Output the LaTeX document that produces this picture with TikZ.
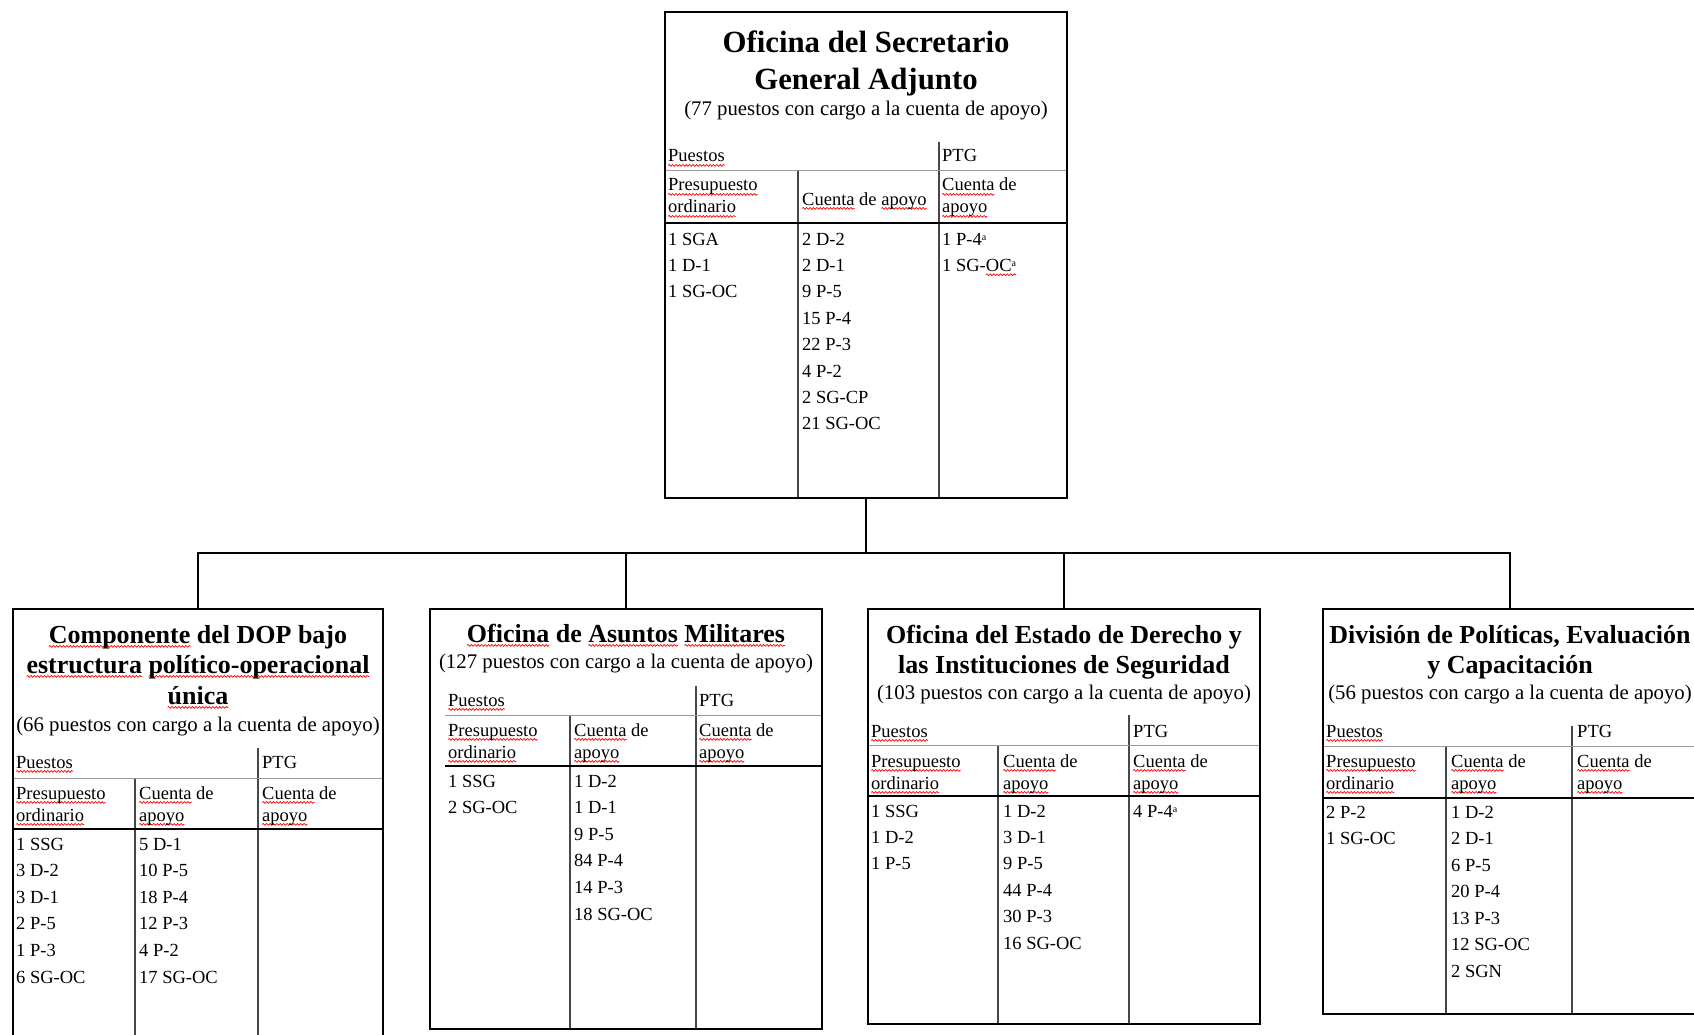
\documentclass[tikz,border=0pt]{standalone}
\usepackage{fontspec}
\setmainfont{Liberation Serif}
\usetikzlibrary{decorations.pathmorphing}

% red wavy underline, as a spell checker draws it
\newlength\sqlen
\tikzset{sqwave/.style={draw=red, line width=0.7pt, decorate,
  decoration={snake, amplitude=0.9pt, segment length=3.4pt}}}
\newcommand\sq[1]{\settowidth\sqlen{#1}%
  \tikz[overlay,baseline=0pt]\draw[sqwave] (0pt,-3.4pt) -- ++(\sqlen,0pt);#1}
% footnote mark a
\newcommand\fna{\raisebox{5pt}{\fontsize{10}{10}\selectfont a}}

\newcommand\cellfont{\fontsize{18.5}{22}\selectfont}
\newcommand\subtfont{\fontsize{20.8}{25}\selectfont}
\newcommand\ttlfont{\bfseries\fontsize{26}{30.5}\selectfont}
\newcommand\bigttlfont{\bfseries\fontsize{30.8}{37}\selectfont}

% one column of post entries, one node per line
\newcommand\colrows[5]{%
  \foreach \t [count=\i] in {#5} {\node[cell] (#1-\i) at (#2,{#3+(\i-1)*#4}) {\t};}%
}
% inner rules of a staffing table:
% left, right, column 1 x, PTG column x, PTG rule top, first row rule, header rule, bottom
\newcommand\tabgrid[8]{%
  \draw[divline] (#4,#5) -- (#4,#8);
  \draw[divline] (#3,#6) -- (#3,#8);
  \draw[rowline] (#1,#6) -- (#2,#6);
  \draw[headrule] (#1,#7) -- (#2,#7);
}
% two-line header cells: name, x1, x2, x3, baseline of first row, baseline of second row
\newcommand\heads[6]{%
  \node[cell] (#1-pu) at (#2,#5) {\sq{Puestos}};
  \node[cell] (#1-ptg) at (#4,#5) {PTG};
  \node[cell] (#1-pr) at (#2,#6) {\sq{Presupuesto}};
  \node[cell] (#1-or) at (#2,{#6+22}) {\sq{ordinario}};
  \node[cell] (#1-ca) at (#3,#6) {\sq{Cuenta} de};
  \node[cell] (#1-ap) at (#3,{#6+22}) {\sq{apoyo}};
  \node[cell] (#1-pc) at (#4,#6) {\sq{Cuenta} de};
  \node[cell] (#1-pa) at (#4,{#6+22}) {\sq{apoyo}};
}

\begin{document}
\begin{tikzpicture}[x=1pt,y=-1pt,
  orgbox/.style={draw=black, line width=1.4pt, rectangle, inner sep=0pt},
  divline/.style={draw=black!72, line width=1.1pt},
  rowline/.style={draw=black!40, line width=1pt},
  headrule/.style={draw=black, line width=1.7pt},
  link/.style={draw=black, line width=1.6pt, line cap=rect},
  cell/.style={anchor=base west, inner sep=0pt, font=\cellfont},
  ttl/.style={anchor=base, inner sep=0pt, font=\ttlfont},
  bigttl/.style={anchor=base, inner sep=0pt, font=\bigttlfont},
  subt/.style={anchor=base, inner sep=0pt, font=\subtfont}]

\useasboundingbox (0,0) rectangle (1694,1035);
\fill[white] (0,0) rectangle (1694,1035);
\clip (0,0) rectangle (1694,1035);

% ---------- Office of the Assistant Secretary-General ----------
\tabgrid{665}{1067}{798}{939}{142}{171}{223}{498}
\node[orgbox, minimum width=402pt, minimum height=486pt] (top) at (866,255) {};
\node[bigttl] (top-t1) at (866,53) {Oficina del Secretario};
\node[bigttl] (top-t2) at (866,90) {General Adjunto};
\node[subt] (top-s) at (866,116) {(77 puestos con cargo a la cuenta de apoyo)};
\node[cell] (top-pu) at (668,162) {\sq{Puestos}};
\node[cell] (top-ptg) at (942,162) {PTG};
\node[cell] (top-pr) at (668,191) {\sq{Presupuesto}};
\node[cell] (top-or) at (668,213) {\sq{ordinario}};
\node[cell] (top-ca) at (802,205) {\sq{Cuenta} de \sq{apoyo}};
\node[cell] (top-pc) at (942,191) {\sq{Cuenta} de};
\node[cell] (top-pa) at (942,213) {\sq{apoyo}};
\colrows{top-a}{668}{245}{26.4}{1 SGA,1 D-1,1 SG-OC}
\colrows{top-b}{802}{245}{26.4}{2 D-2,2 D-1,9 P-5,15 P-4,22 P-3,4 P-2,2 SG-CP,21 SG-OC}
\colrows{top-c}{942}{245}{26.4}{1 P-4\fna,1 SG-\sq{OC\fna}}

% ---------- Single political-operational structure ----------
\tabgrid{13}{383}{135}{258}{748}{778}{829}{1060}
\node[orgbox, minimum width=370pt, minimum height=451pt] (c1) at (198,834.5) {};
\node[ttl] (c1-t1) at (198,643) {\sq{Componente} del DOP bajo};
\node[ttl] (c1-t2) at (198,673) {\sq{estructura} \sq{político-operacional}};
\node[ttl] (c1-t3) at (198,704) {\sq{única}};
\node[subt] (c1-s) at (198,731) {(66 puestos con cargo a la cuenta de apoyo)};
\heads{c1}{16}{139}{262}{768}{799}
\colrows{c1-a}{16}{850}{26.6}{1 SSG,3 D-2,3 D-1,2 P-5,1 P-3,6 SG-OC}
\colrows{c1-b}{139}{850}{26.6}{5 D-1,10 P-5,18 P-4,12 P-3,4 P-2,17 SG-OC}

% ---------- Office of Military Affairs ----------
\tabgrid{445}{822}{570}{696}{686}{715}{766}{1029}
\node[orgbox, minimum width=392pt, minimum height=420pt] (c2) at (626,819) {};
\node[ttl] (c2-t1) at (626,642) {\sq{Oficina} de \sq{Asuntos} \sq{Militares}};
\node[subt] (c2-s) at (626,668) {(127 puestos con cargo a la cuenta de apoyo)};
\heads{c2}{448}{574}{699}{706}{736}
\colrows{c2-a}{448}{787}{26.6}{1 SSG,2 SG-OC}
\colrows{c2-b}{574}{787}{26.6}{1 D-2,1 D-1,9 P-5,84 P-4,14 P-3,18 SG-OC}

% ---------- Office of Rule of Law and Security Institutions ----------
\tabgrid{868}{1260}{998}{1129}{715}{745}{796}{1024}
\node[orgbox, minimum width=392pt, minimum height=415pt] (c3) at (1064,816.5) {};
\node[ttl] (c3-t1) at (1064,643) {Oficina del Estado de Derecho y};
\node[ttl] (c3-t2) at (1064,673) {las Instituciones de Seguridad};
\node[subt] (c3-s) at (1064,699) {(103 puestos con cargo a la cuenta de apoyo)};
\heads{c3}{871}{1003}{1133}{737}{767}
\colrows{c3-a}{871}{817}{26.4}{1 SSG,1 D-2,1 P-5}
\colrows{c3-b}{1003}{817}{26.4}{1 D-2,3 D-1,9 P-5,44 P-4,30 P-3,16 SG-OC}
\colrows{c3-c}{1133}{817}{26.4}{4 P-4\fna}

% ---------- Policy, Evaluation and Training Division ----------
\tabgrid{1323}{1697}{1446}{1572}{726}{746}{798}{1014}
\node[orgbox, minimum width=374pt, minimum height=405pt] (c4) at (1510,811.5) {};
\node[ttl] (c4-t1) at (1510,643) {División de Políticas, Evaluación};
\node[ttl] (c4-t2) at (1510,673) {y Capacitación};
\node[subt] (c4-s) at (1510,699) {(56 puestos con cargo a la cuenta de apoyo)};
\heads{c4}{1326}{1451}{1577}{737}{767}
\colrows{c4-a}{1326}{818}{26.5}{2 P-2,1 SG-OC}
\colrows{c4-b}{1451}{818}{26.5}{1 D-2,2 D-1,6 P-5,20 P-4,13 P-3,12 SG-OC,2 SGN}

% ---------- connectors ----------
\coordinate (bus) at (0,553);
\draw[link] (top.south) -- (top.south |- bus);
\draw[link] (c1.north) -- (c1.north |- bus) -- (c4.north |- bus) -- (c4.north);
\draw[link] (c2.north |- bus) -- (c2.north);
\draw[link] (c3.north |- bus) -- (c3.north);
\end{tikzpicture}
\end{document}
